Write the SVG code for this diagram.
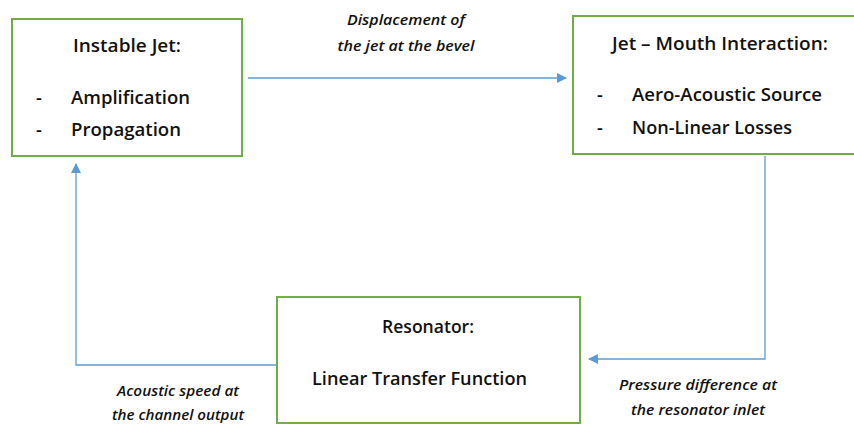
<svg xmlns="http://www.w3.org/2000/svg" width="854" height="426" viewBox="0 0 854 426">
<style>
.box{fill:#fff;stroke:#70AD47;stroke-width:2}
.t{font-family:"Open Sans","Liberation Sans",sans-serif;font-weight:600;font-size:18px;fill:#111}
.l{font-family:"Open Sans","Liberation Sans",sans-serif;font-weight:600;font-style:italic;font-size:14.5px;fill:#111}
.c{fill:none;stroke:#5B9BD5;stroke-width:1.3}
</style>
<defs>
<marker id="ah" markerWidth="10" markerHeight="10" refX="9" refY="5" orient="auto" markerUnits="userSpaceOnUse">
<path d="M0,0 L10,5 L0,10 Z" fill="#5B9BD5"/>
</marker>
</defs>
<rect width="854" height="426" fill="#fff"/>
<g id="connectors">
<path class="c" d="M248,78 H566" marker-end="url(#ah)"/>
<path class="c" d="M765,156 V359 H589" marker-end="url(#ah)"/>
<path class="c" d="M277,365 H76 V164" marker-end="url(#ah)"/>
<text class="l" x="406" y="25" text-anchor="middle" textLength="118" lengthAdjust="spacingAndGlyphs">Displacement of</text>
<text class="l" x="406" y="51" text-anchor="middle" textLength="137" lengthAdjust="spacingAndGlyphs">the jet at the bevel</text>
<text class="l" x="698" y="390" text-anchor="middle" textLength="158" lengthAdjust="spacingAndGlyphs">Pressure difference at</text>
<text class="l" x="698" y="415" text-anchor="middle" textLength="134" lengthAdjust="spacingAndGlyphs">the resonator inlet</text>
<text class="l" x="178" y="396" text-anchor="middle" textLength="122" lengthAdjust="spacingAndGlyphs">Acoustic speed at</text>
<text class="l" x="178" y="420" text-anchor="middle" textLength="132" lengthAdjust="spacingAndGlyphs">the channel output</text>
</g>
<g id="instable-jet">
<rect class="box" x="12" y="19" width="230" height="137"/>
<text class="t" x="127" y="52" text-anchor="middle" textLength="108" lengthAdjust="spacingAndGlyphs">Instable Jet:</text>
<text class="t" x="36" y="104">-</text>
<text class="t" x="71" y="104" textLength="119" lengthAdjust="spacingAndGlyphs">Amplification</text>
<text class="t" x="36" y="136">-</text>
<text class="t" x="71" y="136" textLength="110" lengthAdjust="spacingAndGlyphs">Propagation</text>
</g>
<g id="jet-mouth">
<rect class="box" x="573" y="16" width="290" height="138"/>
<text class="t" x="612" y="50" textLength="216" lengthAdjust="spacingAndGlyphs">Jet – Mouth Interaction:</text>
<text class="t" x="597" y="101">-</text>
<text class="t" x="632" y="101" textLength="190" lengthAdjust="spacingAndGlyphs">Aero-Acoustic Source</text>
<text class="t" x="597" y="134">-</text>
<text class="t" x="632" y="134" textLength="160" lengthAdjust="spacingAndGlyphs">Non-Linear Losses</text>
</g>
<g id="resonator">
<rect class="box" x="277" y="297" width="303" height="126"/>
<text class="t" x="428" y="333" text-anchor="middle" textLength="92" lengthAdjust="spacingAndGlyphs">Resonator:</text>
<text class="t" x="312" y="385" textLength="215" lengthAdjust="spacingAndGlyphs">Linear Transfer Function</text>
</g>
</svg>
